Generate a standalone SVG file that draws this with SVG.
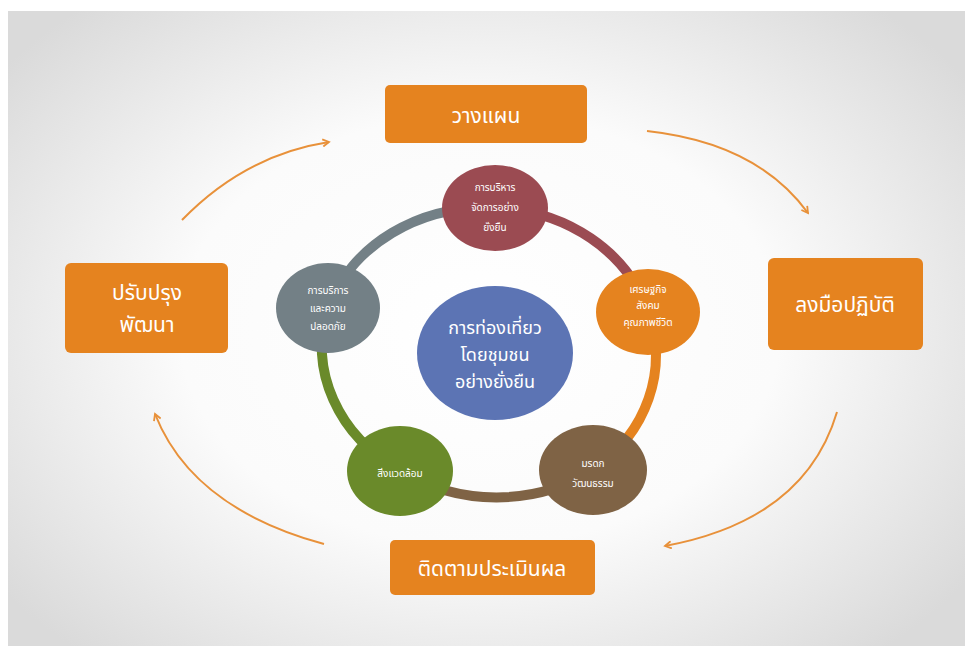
<svg xmlns="http://www.w3.org/2000/svg" width="965" height="646" viewBox="0 0 965 646">
<defs>
<radialGradient id="bg" cx="480" cy="330" r="600" gradientUnits="userSpaceOnUse" gradientTransform="translate(480 330) scale(1 0.72) translate(-480 -330)">
<stop offset="0" stop-color="#ffffff"/>
<stop offset="0.5" stop-color="#fbfbfb"/>
<stop offset="1" stop-color="#dadada"/>
</radialGradient>
<marker id="ah" viewBox="0 0 10 10" refX="8" refY="5" markerWidth="9" markerHeight="9" markerUnits="userSpaceOnUse" orient="auto">
<path d="M1,1 L8,5 L1,9" fill="none" stroke="#E8913A" stroke-width="2"/>
</marker>
<style>
.box{fill:#E5831F;}
.bt{fill:#fff;font-family:"Noto Sans Thai","Tahoma","Noto Sans",sans-serif;font-size:21px;text-anchor:middle;}
.st{fill:#fff;font-family:"Noto Sans Thai","Tahoma","Noto Sans",sans-serif;font-size:10px;text-anchor:middle;}
.ct{fill:#fff;font-family:"Noto Sans Thai","Tahoma","Noto Sans",sans-serif;font-size:18px;text-anchor:middle;}
.arr{fill:none;stroke:#E8913A;stroke-width:2;marker-end:url(#ah);}
.seg{fill:none;stroke-width:10;}
</style>
</defs>
<rect x="0" y="0" width="965" height="646" fill="#ffffff"/>
<rect x="8" y="11" width="957" height="635" fill="url(#bg)"/>

<g id="connectors">
<path class="arr" d="M182,220 Q245,155 329,142"/>
<path class="arr" d="M647,131 Q757,143 808,213"/>
<path class="arr" d="M837,412 Q805,520 665,546"/>
<path class="arr" d="M324,544 Q192,508 155,414"/>
</g>

<g id="ring">
<path class="seg" stroke="#738086" d="M328,308 A165,145 0 0 1 495,208"/>
<path class="seg" stroke="#9B4B52" d="M495,208 A165,145 0 0 1 648,312"/>
<path class="seg" stroke="#E5831F" d="M648,312 A165,145 0 0 1 593,470"/>
<path class="seg" stroke="#7F6345" d="M593,470 A165,145 0 0 1 400,470"/>
<path class="seg" stroke="#6A8A2A" d="M400,470 A165,145 0 0 1 328,308"/>
</g>

<g id="node-plan">
<rect class="box" x="385" y="85" width="202" height="58" rx="5"/>
<text class="bt" x="486" y="123">วางแผน</text>
</g>
<g id="node-do">
<rect class="box" x="768" y="258" width="155" height="92" rx="6"/>
<text class="bt" x="845" y="312">ลงมือปฏิบัติ</text>
</g>
<g id="node-check">
<rect class="box" x="390" y="540" width="205" height="55" rx="5"/>
<text class="bt" x="492" y="576">ติดตามประเมินผล</text>
</g>
<g id="node-improve">
<rect class="box" x="65" y="263" width="163" height="90" rx="6"/>
<text class="bt" x="147" y="300">ปรับปรุง</text>
<text class="bt" x="147" y="332">พัฒนา</text>
</g>

<g id="node-center">
<ellipse cx="495" cy="353" rx="78" ry="67" fill="#5C74B4"/>
<text class="ct" x="495" y="334">การท่องเที่ยว</text>
<text class="ct" x="495" y="361">โดยชุมชน</text>
<text class="ct" x="495" y="388">อย่างยั่งยืน</text>
</g>

<g id="node-manage">
<ellipse cx="495" cy="208" rx="53" ry="43" fill="#9B4B52"/>
<text class="st" x="495" y="191">การบริหาร</text>
<text class="st" x="495" y="211">จัดการอย่าง</text>
<text class="st" x="495" y="231">ยั่งยืน</text>
</g>
<g id="node-economy">
<ellipse cx="648" cy="312" rx="52" ry="43" fill="#E5831F"/>
<text class="st" x="648" y="293">เศรษฐกิจ</text>
<text class="st" x="648" y="309">สังคม</text>
<text class="st" x="648" y="326">คุณภาพชีวิต</text>
</g>
<g id="node-culture">
<ellipse cx="593" cy="470" rx="54" ry="45" fill="#7F6345"/>
<text class="st" x="593" y="467">มรดก</text>
<text class="st" x="593" y="487">วัฒนธรรม</text>
</g>
<g id="node-environment">
<ellipse cx="400" cy="471" rx="53" ry="45" fill="#6A8A2A"/>
<text class="st" x="400" y="477">สิ่งแวดล้อม</text>
</g>
<g id="node-service">
<ellipse cx="328" cy="308" rx="52" ry="45" fill="#738086"/>
<text class="st" x="328" y="294">การบริการ</text>
<text class="st" x="328" y="312">และความ</text>
<text class="st" x="328" y="330">ปลอดภัย</text>
</g>
</svg>
